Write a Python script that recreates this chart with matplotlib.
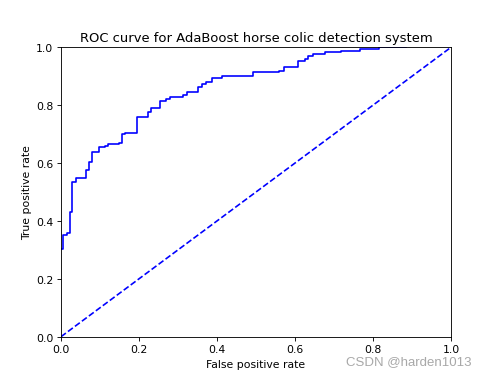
import matplotlib.pyplot as plt

# ROC curve vertices (post-style steps)
fpr = [0.0, 0.006, 0.015, 0.022, 0.029, 0.038, 0.065, 0.073, 0.080, 0.097,
       0.113, 0.121, 0.149, 0.156, 0.164, 0.195, 0.222, 0.231, 0.255, 0.270,
       0.279, 0.313, 0.324, 0.352, 0.361, 0.372, 0.386, 0.412, 0.493, 0.560,
       0.572, 0.608, 0.626, 0.634, 0.645, 0.677, 0.717, 0.767, 0.816, 0.885]
tpr = [0.303, 0.351, 0.358, 0.431, 0.536, 0.547, 0.577, 0.602, 0.637, 0.655,
       0.660, 0.666, 0.671, 0.699, 0.703, 0.760, 0.777, 0.789, 0.814, 0.821,
       0.829, 0.835, 0.847, 0.862, 0.873, 0.881, 0.893, 0.902, 0.913, 0.919,
       0.931, 0.954, 0.959, 0.971, 0.977, 0.983, 0.988, 0.994, 1.0, 1.0]

dpi = 78.6
fig = plt.figure(figsize=(488 / dpi, 377 / dpi), dpi=dpi)
ax = fig.add_axes([61 / 488, 39.3 / 377, 390 / 488, 289.4 / 377])

ax.step(fpr, tpr, where='post', color='b')
ax.plot([0, 1], [0, 1], 'b--')

ax.set_xlabel('False positive rate')
ax.set_ylabel('True positive rate')
ax.set_title('ROC curve for AdaBoost horse colic detection system')
ax.axis([0, 1, 0, 1])

# 水印
fig.text(346 / 488, 1 - 362 / 377, 'CSDN @harden1013', color='#a8a8a8',
         fontsize=12.2, family='Liberation Sans', va='center', ha='left')

fig.savefig('out.png', dpi=dpi)
